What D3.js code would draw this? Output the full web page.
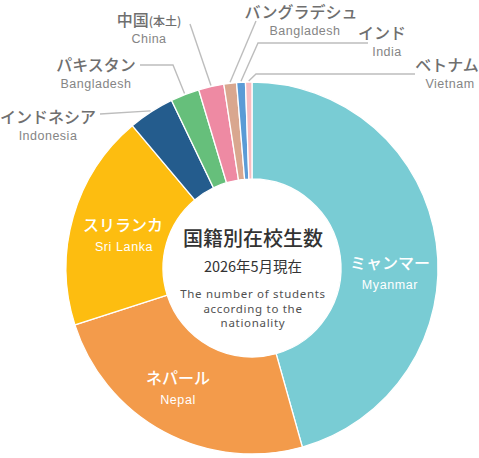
<!DOCTYPE html>
<html><head><meta charset="utf-8">
<script src="https://cdn.jsdelivr.net/npm/d3@7"></script>
<style>
html,body{margin:0;padding:0;background:#fff;}
svg{display:block;}
</style></head>
<body>
<svg id="c" width="479" height="458"></svg>
<script>
// ---- data ----
const namesJa = ["ミャンマー","ネパール","スリランカ","インドネシア","パキスタン","中国","バングラデシュ","インド","ベトナム"];
const namesEn = ["Myanmar","Nepal","Sri Lanka","Indonesia","Bangladesh","China","Bangladesh","India","Vietnam"];
const values  = [228,122,94,20,12.5,11,5.5,3.8,2.8];
const colors  = ["#79ccd4","#f39b4b","#fdbd10","#245c8d","#66bf7b","#ee8aa3","#d9a78f","#5b9bd6","#f8bcc1"];
const titleJa = "国籍別在校生数";
const dateJa  = "2026年5月現在";
const titleEn = ["The number of students","according to the","nationality"];

// ---- layout ----
const cx = 252, cy = 268, R = 186, r0 = 89;
const svg = d3.select("#c");
const g = svg.append("g").attr("transform",`translate(${cx},${cy})`);
const pie = d3.pie().sort(null).value(d=>d);
const arcs = pie(values);
const arc = d3.arc().innerRadius(r0).outerRadius(R);
const JP = "'Noto Sans CJK JP','Noto Sans',sans-serif";
const EN = "'Liberation Sans',Arial,sans-serif";

g.selectAll("path.s").data(arcs).join("path")
  .attr("class","s").attr("d",arc)
  .attr("fill",(d,i)=>colors[i])
  .attr("stroke","#fff").attr("stroke-width",1.3);

// inside labels (index -> position)
const inside = [
  {i:0, x:390, y:263},
  {i:1, x:178, y:378},
  {i:2, x:123, y:225}
];
inside.forEach(o=>{
  svg.append("text").attr("x",o.x).attr("y",o.y).attr("dy","0.35em")
    .attr("text-anchor","middle").attr("fill","#fff")
    .style("font-family",JP).style("font-size","16px").style("font-weight",500)
    .text(namesJa[o.i]);
  svg.append("text").attr("x",o.x+(o.i===2?1:0)).attr("y",o.y+22).attr("dy","0.35em")
    .attr("text-anchor","middle").attr("fill","#fff")
    .style("font-family",EN).style("font-size","12.5px").style("letter-spacing","0.6px")
    .text(namesEn[o.i]);
});

// outside labels
const outside = [
  {i:3, x:48,  y:117, pts:[[100,114]]},
  {i:4, x:96,  y:65,  pts:[[140,65],[173,65]]},
  {i:5, x:149, y:20,  pts:[[190,24]], extra:"(本土)"},
  {i:6, x:301, y:12,  pts:[[256,21]], enx:305},
  {i:7, x:382, y:33,  pts:[[368,43],[258,43]], enx:387},
  {i:8, x:447, y:65,  pts:[[415,74],[256,74]], enx:450}
];
const line = d3.line();
outside.forEach(o=>{
  const a = arcs[o.i];
  const m = (a.startAngle+a.endAngle)/2;
  const end = [cx + (R+1)*Math.sin(m), cy - (R+1)*Math.cos(m)];
  svg.append("path").attr("d",line(o.pts.concat([end])))
    .attr("fill","none").attr("stroke","#bdbdbd").attr("stroke-width",1.4);
  const t = svg.append("text").attr("x",o.x).attr("y",o.y).attr("dy","0.35em")
    .attr("text-anchor","middle").attr("fill","#6f6f6f")
    .style("font-family",JP).style("font-size","16px").style("font-weight",500);
  t.append("tspan").text(namesJa[o.i]);
  if(o.extra) t.append("tspan").style("font-size","12px").text(o.extra);
  svg.append("text").attr("x",o.enx||o.x).attr("y",o.y+19).attr("dy","0.35em")
    .attr("text-anchor","middle").attr("fill","#858585")
    .style("font-family",EN).style("font-size","12.5px").style("letter-spacing","0.5px")
    .text(namesEn[o.i]);
});

// center
svg.append("text").attr("x",253).attr("y",239).attr("dy","0.35em")
  .attr("text-anchor","middle").attr("fill","#333")
  .style("font-family",JP).style("font-size","20px").style("font-weight",500)
  .text(titleJa);
svg.append("text").attr("x",253).attr("y",267).attr("dy","0.35em")
  .attr("text-anchor","middle").attr("fill","#333")
  .style("font-family",JP).style("font-size","14.5px")
  .text(dateJa);
titleEn.forEach((s,k)=>{
  svg.append("text").attr("x",253).attr("y",294+k*14.5).attr("dy","0.35em")
    .attr("text-anchor","middle").attr("fill","#505050")
    .style("font-family","'Noto Sans',sans-serif").style("font-size","11.5px")
    .style("font-weight",400).style("letter-spacing","0.7px")
    .text(s);
});
</script>
</body></html>
